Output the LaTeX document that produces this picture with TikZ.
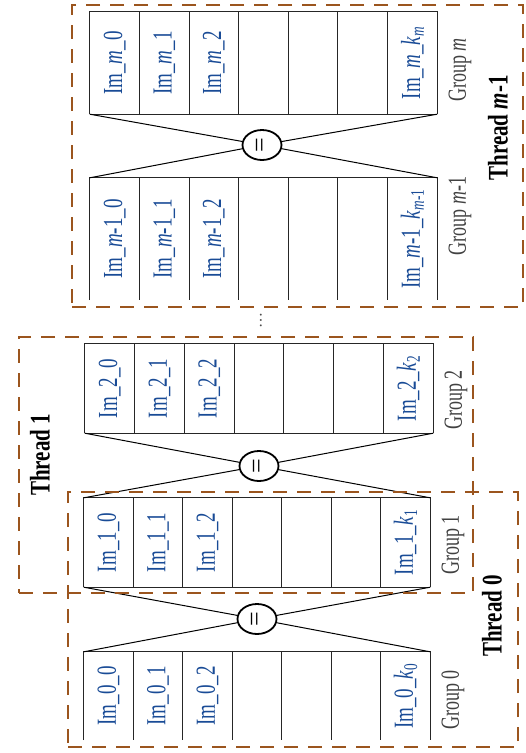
\documentclass[tikz,border=0pt]{standalone}
\usepackage{fontspec}
\setmainfont{Liberation Serif}
\usetikzlibrary{calc, fit, shapes.geometric}
\definecolor{imblue}{RGB}{25,75,150}
\definecolor{thrbrown}{RGB}{155,85,30}
\definecolor{grpgray}{RGB}{65,65,65}

\begin{document}
\begin{tikzpicture}[x=1pt, y=-1pt,
        tab/.style={inner sep=0pt},
        grid/.style={line width=1.1pt, black!85},
        cell/.style={rotate=90, yscale=1.45, text=imblue, inner sep=0pt, font=\fontsize{19}{19}\selectfont},
        grp/.style={rotate=90, yscale=1.45, text=grpgray, inner sep=0pt, font=\fontsize{18}{18}\selectfont},
        eq/.style={ellipse, draw, line width=1.8pt, rotate=90, minimum width=30pt, minimum height=39pt, inner sep=0pt, font=\fontsize{26}{26}\selectfont},
        thread/.style={draw=thrbrown, line width=2.5pt, dash pattern=on 14pt off 10pt, inner sep=0pt},
        thrlbl/.style={rotate=90, yscale=1.35, inner sep=0pt, font=\fontsize{21}{21}\selectfont\bfseries},
    ]
        \useasboundingbox (0,0) rectangle (526,753);

        % Groups of images: name / corners / index / label position
        \foreach \g/\xa/\ya/\xb/\yb/\sub/\ly in {gm/90/12/437/114/\textit{m}/70, gmm/90/178/437/300/{\textit{m}-1}/216, g2/85/344/433/433/2/400, g1/84/498/430/587/1/545, g0/84/652/430/740/0/700} {
            \node[tab, fit={(\xa,\ya) (\xb,\yb)}] (\g) {};
            \draw[grid] (\g.south west) -- (\g.north west) -- (\g.north east) -- (\g.south east);
            \foreach \i in {1,...,6}
                \draw[grid] ($(\g.north west)!\i/7!(\g.north east)$) -- ($(\g.south west)!\i/7!(\g.south east)$);
            \foreach \i [evaluate=\i as \f using (\i+0.5)/7] in {0,1,2}
                \node[cell] (\g-\i) at ($(\g.west)!\f!(\g.east)$) {Im\_\sub\_\i};
            \node[cell] (\g-k) at ($(\g.west)!6.5/7!(\g.east)$) {Im\_\sub\_\textit{k}\textsubscript{\sub}};
            \node[grp] (\g-lbl) at (\xb+23,\ly) {Group \sub};
        }
        \foreach \g in {gm,g2,g1}
            \draw[grid] (\g.south west) -- (\g.south east);

        % Comparisons between neighbouring groups
        \node[eq] (em) at (262,145) {=};
        \node[eq] (e1) at (259,466) {=};
        \node[eq] (e0) at (257,619) {=};
        \foreach \a/\e/\b in {gm/em/gmm, g2/e1/g1, g1/e0/g0} {
            \draw[line width=1pt] (\a.south west) -- (\e) -- (\b.north west);
            \draw[line width=1pt] (\a.south east) -- (\e) -- (\b.north east);
        }

        \node[rotate=90, text=black!70, font=\fontsize{16}{16}\selectfont] (dots) at (261,320) {\ldots};

        % Threads
        \node[thread, fit={(72,5) (523,307)}] (thm) {};
        \node[thread, fit={(19,337) (473,593)}] (th1) {};
        \node[thread, fit={(68,492) (518,747)}] (th0) {};
        \node[thrlbl] (thm-lbl) at (498,128) {Thread \textit{m}-1};
        \node[thrlbl] (th1-lbl) at (40,455) {Thread 1};
        \node[thrlbl] (th0-lbl) at (492,616) {Thread 0};
    \end{tikzpicture}
\end{document}
